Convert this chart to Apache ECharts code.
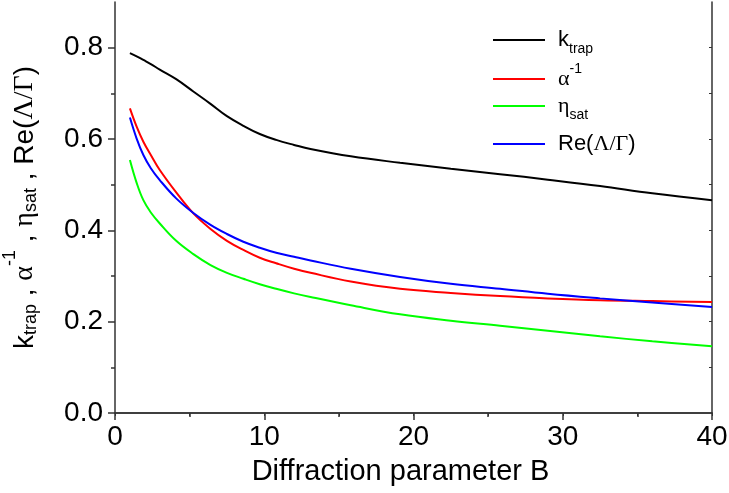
<!DOCTYPE html>
<html>
<head>
<meta charset="utf-8">
<script src="https://cdn.jsdelivr.net/npm/echarts@6/dist/echarts.min.js"></script>
<style>
  html, body { margin: 0; padding: 0; background: #fff; }
  #chart { width: 729px; height: 493px; }
</style>
</head>
<body>
<div id="chart"></div>
<script>
// Diffraction parameter B (x) and the four curves
const B = [1, 1.45, 1.9, 2.4, 3, 4.1, 5.25, 6.4, 7.5, 8.6, 9.7, 10.8, 12, 13.1, 15.8, 19.1, 22.5, 25.8, 29, 32.5, 36, 40];
const kTrap    = [0.788, 0.781, 0.773, 0.764, 0.752, 0.731, 0.704, 0.677, 0.650, 0.629, 0.611, 0.598, 0.587, 0.578, 0.562, 0.548, 0.535, 0.523, 0.511, 0.497, 0.481, 0.466];
const alphaInv = [0.667, 0.627, 0.594, 0.565, 0.532, 0.483, 0.437, 0.403, 0.377, 0.357, 0.340, 0.328, 0.316, 0.307, 0.288, 0.272, 0.263, 0.256, 0.251, 0.247, 0.245, 0.243];
const etaSat   = [0.554, 0.504, 0.466, 0.439, 0.415, 0.377, 0.348, 0.324, 0.307, 0.294, 0.282, 0.272, 0.262, 0.254, 0.236, 0.216, 0.202, 0.191, 0.180, 0.168, 0.157, 0.146];
const reLG     = [0.647, 0.601, 0.565, 0.536, 0.510, 0.470, 0.438, 0.412, 0.392, 0.375, 0.362, 0.351, 0.342, 0.334, 0.316, 0.298, 0.283, 0.272, 0.261, 0.251, 0.242, 0.232];

// tick positions
const yMajorTicks = [0, 0.2, 0.4, 0.6, 0.8];
const yMinorTicks = [0.1, 0.3, 0.5, 0.7];
const yFrameTicks = [0.1, 0.2, 0.3, 0.4, 0.5, 0.6, 0.7, 0.8];

const seriesNames = ['kTrap', 'alphaInv', 'etaSat', 'reLG'];
const legendLabels = {
  kTrap: '{p|}{m|k}{sub|trap}',
  alphaInv: '{p|}{g|α}{sup|-1}',
  etaSat: '{p|}{g|η}{sub|sat}',
  reLG: '{p|}{m|Re(}{g|Λ/Γ}{m|)}'
};
const colors = ['#000000', '#ff0000', '#00ff00', '#0000ff'];
const seriesData = [kTrap, alphaInv, etaSat, reLG];
const legendTops = [29, 62, 95, 133];

const SANS = '"Liberation Sans", Arial, sans-serif';
const SERIF = '"Liberation Serif", "Times New Roman", serif';
const AXIS_COLOR = '#333333';

const legendRich = {
  p: { width: 8 },
  m: { fontSize: 22, fontFamily: SANS, color: '#000' },
  g: { fontSize: 22, fontFamily: SERIF, color: '#000' },
  sub: { fontSize: 14, fontFamily: SANS, color: '#000', padding: [18, 0, 0, 0] },
  sup: { fontSize: 14, fontFamily: SANS, color: '#000', padding: [0, 0, 20, 0] }
};

const chart = echarts.init(document.getElementById('chart'), null, { renderer: 'canvas' });

const yName = '{m|k}{sub|trap}{m| , }{g|α}{sup|-1}{m| , }{g|η}{sub|sat}{m| , Re(}{g|Λ/Γ}{m|)}';

chart.setOption({
  animation: false,
  backgroundColor: '#ffffff',
  grid: { left: 115, right: 17, top: 2, bottom: 80, containLabel: false, outerBoundsMode: 'none' },
  legend: seriesNames.map((name, i) => ({
    data: [name],
    left: 493,
    top: legendTops[i],
    padding: 0,
    icon: 'rect',
    itemWidth: 52,
    itemHeight: 2,
    selectedMode: false,
    formatter: n => legendLabels[n],
    textStyle: { rich: legendRich }
  })),
  xAxis: [
    {
      type: 'value', min: 0, max: 40, interval: 10, position: 'bottom',
      name: 'Diffraction parameter B',
      nameLocation: 'middle', nameGap: 44,
      nameTextStyle: { fontSize: 29, fontFamily: SANS, color: '#000', padding: [0, 26, 0, 0] },
      axisLine: { lineStyle: { color: AXIS_COLOR, width: 1.5 } },
      axisTick: { inside: false, length: 7, lineStyle: { color: AXIS_COLOR, width: 1.5 } },
      minorTick: { show: true, splitNumber: 2, length: 4, lineStyle: { color: AXIS_COLOR, width: 1.5 } },
      axisLabel: { fontSize: 28, fontFamily: SANS, color: '#000', margin: 10 },
      splitLine: { show: false }, minorSplitLine: { show: false }
    },
    {
      type: 'value', min: 0, max: 40, interval: 5, position: 'top',
      axisLine: { show: true, lineStyle: { color: AXIS_COLOR, width: 1.5 } },
      axisTick: { inside: true, length: 3, lineStyle: { color: AXIS_COLOR, width: 1 } },
      axisLabel: { show: false }, splitLine: { show: false }
    }
  ],
  yAxis: [
    {
      type: 'value', min: 0, max: 0.9, interval: 0.1, position: 'left',
      name: yName,
      nameLocation: 'middle', nameRotate: 90, nameGap: 66,
      nameTextStyle: {
        color: '#000',
        rich: {
          m: { fontSize: 28, fontFamily: SANS, color: '#000' },
          g: { fontSize: 28, fontFamily: SERIF, color: '#000' },
          sub: { fontSize: 18, fontFamily: SANS, color: '#000', padding: [12, 0, 0, 0] },
          sup: { fontSize: 18, fontFamily: SANS, color: '#000', padding: [0, 0, 30, 0] }
        }
      },
      axisLine: { show: true, lineStyle: { color: AXIS_COLOR, width: 1.5 } },
      axisTick: { show: true, inside: false, length: 7, customValues: yMajorTicks, lineStyle: { color: AXIS_COLOR, width: 1.5 } },
      axisLabel: { fontSize: 28, fontFamily: SANS, color: '#000', margin: 12, customValues: yMajorTicks,
                   formatter: v => v.toFixed(1) },
      splitLine: { show: false }
    },
    {
      type: 'value', min: 0, max: 0.9, position: 'left',
      axisLine: { show: false },
      axisTick: { show: true, inside: false, length: 4, customValues: yMinorTicks, lineStyle: { color: AXIS_COLOR, width: 1.5 } },
      axisLabel: { show: false }, splitLine: { show: false }
    },
    {
      type: 'value', min: 0, max: 0.9, position: 'right',
      axisLine: { show: true, lineStyle: { color: AXIS_COLOR, width: 1.5 } },
      axisTick: { show: true, inside: true, length: 3, customValues: yFrameTicks, lineStyle: { color: AXIS_COLOR, width: 1 } },
      axisLabel: { show: false }, splitLine: { show: false }
    }
  ],
  series: seriesNames.map((name, i) => ({
    name: name,
    type: 'line',
    xAxisIndex: 0,
    yAxisIndex: 0,
    data: B.map((b, j) => [b, seriesData[i][j]]),
    smooth: 0.4,
    symbol: 'none',
    showSymbol: false,
    color: colors[i],
    lineStyle: { color: colors[i], width: 2 },
    emphasis: { disabled: true }
  }))
});
</script>
</body>
</html>
